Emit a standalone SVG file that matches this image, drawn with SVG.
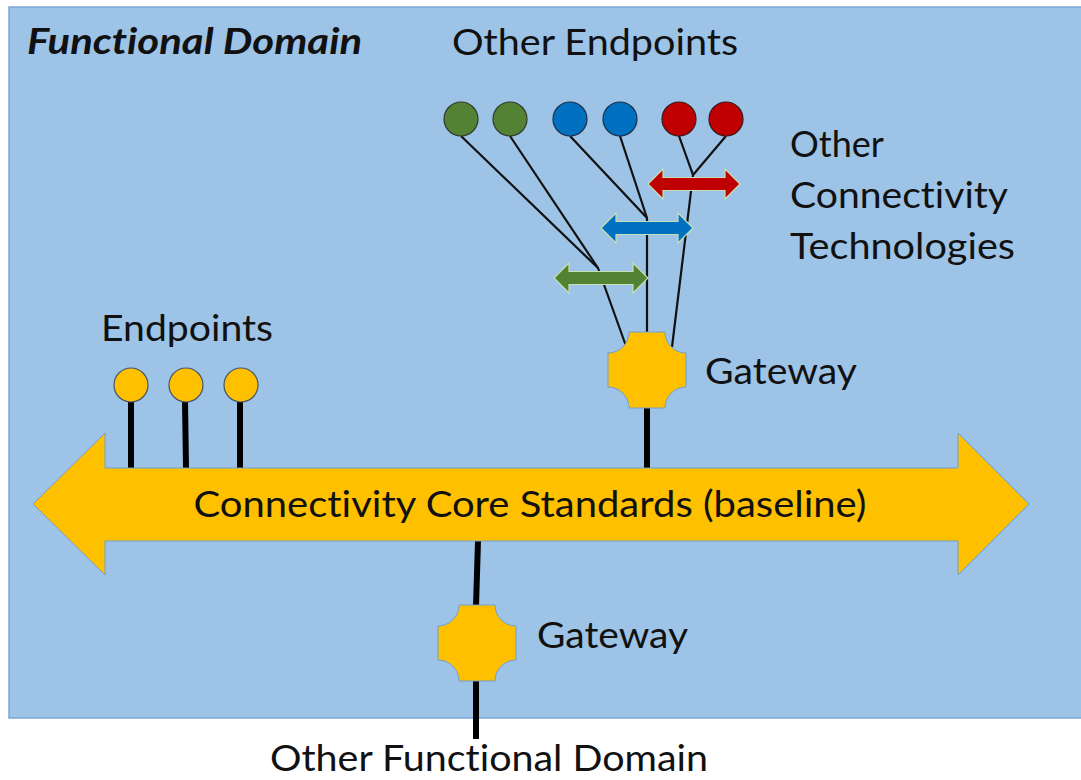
<svg xmlns="http://www.w3.org/2000/svg" width="1081" height="780" viewBox="0 0 1081 780">
<style>
.t{font-family:Lato,"Open Sans","Liberation Sans",sans-serif;font-size:36px;fill:#111;font-variant-ligatures:none;}
.gw{fill:#ffc000;stroke:#6f9fd0;stroke-width:1;}
.ep{fill:#ffc000;stroke:#44546a;stroke-width:1.2;}
.thin{stroke:#111;stroke-width:2.2;fill:none;}
.thick{stroke:#000;stroke-width:6;fill:none;}
.da{stroke:#c5e0b4;stroke-width:1.2;}
</style>
<rect x="9" y="7" width="1080" height="711" fill="#9dc3e6" stroke="#7ea6d6" stroke-width="1.5"/>
<text class="t" x="27" y="54" font-weight="bold" font-style="italic" textLength="335" lengthAdjust="spacingAndGlyphs">Functional Domain</text>
<g id="connectors">
  <line class="thick" x1="131" y1="402" x2="131" y2="468"/>
  <line class="thick" x1="185" y1="402" x2="186" y2="468"/>
  <line class="thick" x1="240" y1="402" x2="240" y2="468"/>
  <line class="thick" x1="647" y1="406" x2="647" y2="468"/>
  <line class="thick" x1="478" y1="541" x2="476" y2="606"/>
  <line class="thick" x1="476" y1="680" x2="476" y2="739"/>
  <polyline class="thin" points="461,136 598,268 626,346"/>
  <line class="thin" x1="510" y1="136" x2="598" y2="268"/>
  <polyline class="thin" points="570,136 647,218 647,334"/>
  <line class="thin" x1="620" y1="136" x2="647" y2="218"/>
  <polyline class="thin" points="679,136 693,175 672,347"/>
  <line class="thin" x1="726" y1="136" x2="693" y2="175"/>
</g>
<g id="core">
  <polygon points="33,504 105,433 105,468 958,468 958,433 1029,504 958,575 958,541 105,541 105,575" fill="#ffc000" stroke="#6f9fd0" stroke-width="1"/>
  <text class="t" x="530" y="517" text-anchor="middle" textLength="673" lengthAdjust="spacingAndGlyphs">Connectivity Core Standards (baseline)</text>
</g>
<g id="endpoints">
  <circle class="ep" cx="131" cy="385" r="17"/>
  <circle class="ep" cx="186" cy="385" r="17"/>
  <circle class="ep" cx="241" cy="385" r="17"/>
  <text class="t" x="101" y="341" textLength="172" lengthAdjust="spacingAndGlyphs">Endpoints</text>
</g>
<g id="other-endpoints">
  <circle cx="461" cy="119" r="17" fill="#548235" stroke="#2f3b2a" stroke-width="1.2"/>
  <circle cx="510" cy="119" r="17" fill="#548235" stroke="#2f3b2a" stroke-width="1.2"/>
  <circle cx="570" cy="119" r="17" fill="#0070c0" stroke="#1f2f4a" stroke-width="1.2"/>
  <circle cx="620" cy="119" r="17" fill="#0070c0" stroke="#1f2f4a" stroke-width="1.2"/>
  <circle cx="679" cy="119" r="17" fill="#c00000" stroke="#3a1a1a" stroke-width="1.2"/>
  <circle cx="726" cy="119" r="17" fill="#c00000" stroke="#3a1a1a" stroke-width="1.2"/>
  <text class="t" x="452" y="55" textLength="286" lengthAdjust="spacingAndGlyphs">Other Endpoints</text>
</g>
<g id="technologies">
  <path class="da" fill="#c00000" d="M648,184 L663,169 L663,177.5 L725,177.5 L725,169 L740,184 L725,199 L725,190.5 L663,190.5 L663,199 Z"/>
  <path class="da" fill="#0070c0" d="M601,228 L616,213 L616,221.5 L678,221.5 L678,213 L693,228 L678,243 L678,234.5 L616,234.5 L616,243 Z"/>
  <path class="da" fill="#548235" d="M554,278 L569,263 L569,271.5 L633,271.5 L633,263 L648,278 L633,293 L633,284.5 L569,284.5 L569,293 Z"/>
  <text class="t" x="790" y="157">Other</text>
  <text class="t" x="790" y="208" textLength="218" lengthAdjust="spacingAndGlyphs">Connectivity</text>
  <text class="t" x="790" y="259" textLength="225" lengthAdjust="spacingAndGlyphs">Technologies</text>
</g>
<g id="gateway-upper">
  <path class="gw" d="M629,332 H665 A21,21 0 0 0 686,353 V387 A21,21 0 0 0 665,408 H629 A21,21 0 0 0 608,387 V353 A21,21 0 0 0 629,332 Z"/>
  <text class="t" x="705" y="384" textLength="152" lengthAdjust="spacingAndGlyphs">Gateway</text>
</g>
<g id="gateway-lower">
  <path class="gw" d="M459,605 H495 A21,21 0 0 0 516,626 V660 A21,21 0 0 0 495,681 H459 A21,21 0 0 0 438,660 V626 A21,21 0 0 0 459,605 Z"/>
  <text class="t" x="537" y="648" textLength="151" lengthAdjust="spacingAndGlyphs">Gateway</text>
</g>
<g id="other-domain">
  <text class="t" x="270" y="771" font-size="34" textLength="438" lengthAdjust="spacingAndGlyphs">Other Functional Domain</text>
</g>
</svg>
